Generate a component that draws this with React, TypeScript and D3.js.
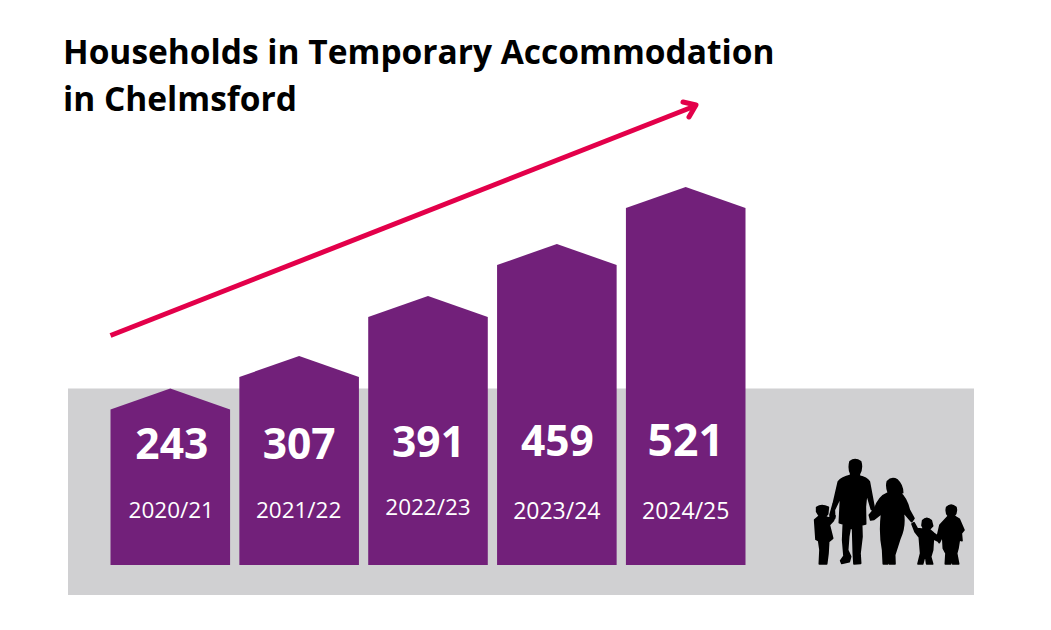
import React from "react";
import * as d3 from "d3";

const years = ["2020/21", "2021/22", "2022/23", "2023/24", "2024/25"];
const households = [243, 307, 391, 459, 521];
// small nudges the original has on its hand placed labels
const valueNudge = [0, 0, -2, -3, -3];
const valueShift = [1.5, 0, 0.5, 0.5, 0];
const valueSize = [42.5, 42.5, 42.5, 42.5, 44.5];
const yearNudge = [0, 0, -3, 1, 1];
const yearShift = [1, -0.5, 0, 0, 0];
const yearSize = [22.5, 22.5, 22.5, 23, 23];
const titleLines = ["Households in Temporary Accommodation", "in Chelmsford"];

const WIDTH = 1051;
const HEIGHT = 630;
const FONT = "'Open Sans', sans-serif";
const PURPLE = "#72207a";
const GREY = "#d0d0d2";
const RED = "#e3004a";

// the original's bars are not strictly proportional, so each value gets its own stop
const y = d3.scaleLinear().domain(households).range([388.5, 356, 296, 244, 187]);
const x = d3.scaleBand<string>().domain(years).range([110.5, 745.5]).paddingInner(0.072).paddingOuter(0);

const BASE = 565;
const ROOF = 21;

const housePath = (year: string, value: number) => {
  const left = x(year) || 0;
  const w = x.bandwidth();
  const top = y(value);
  const p = d3.path();
  p.moveTo(left, BASE);
  p.lineTo(left, top + ROOF);
  p.lineTo(left + w / 2, top);
  p.lineTo(left + w, top + ROOF);
  p.lineTo(left + w, BASE);
  p.closePath();
  return p.toString();
};

// family silhouette, traced in a 540x375 box
const family = [
  "M150 35 Q165 22 182 35 Q188 55 178 72 L178 78 Q200 82 208 95 L222 170 L224 185 L214 178 L200 130 L196 170 L197 222 L185 225 L186 260 L180 310 L182 340 L162 342 L160 310 L158 240 L152 225 L146 260 L143 300 L152 320 L148 335 L125 340 L122 332 L132 318 L128 270 L130 222 L118 218 L122 140 L103 180 L104 205 L92 210 L90 195 L100 160 L115 95 Q125 82 152 76 L152 70 Q145 55 150 35 Z",
  "M262 95 Q275 80 292 90 Q308 105 308 128 L300 128 Q320 145 328 180 L342 205 L335 215 L315 192 L310 190 Q316 230 300 265 L284 315 L285 342 L268 342 L264 330 L262 342 L250 342 L248 300 Q238 250 245 190 L222 208 L212 210 L208 195 L225 175 Q235 140 265 128 Q258 110 262 95 Z",
  "M50 172 Q65 162 85 172 L83 192 L76 200 L90 205 L96 190 L105 198 L100 212 L88 225 L98 265 L86 275 L84 310 L80 342 L58 342 L60 300 L56 272 L48 268 L44 210 L58 198 L50 185 Z",
  "M368 212 Q380 198 394 212 L398 228 L388 238 L402 250 L418 262 L412 272 L400 266 L398 300 L392 320 L398 342 L380 342 L376 312 L368 342 L354 342 L362 310 L358 262 L345 245 L336 222 L342 218 L352 236 L372 238 L366 226 Z",
  "M440 172 Q453 158 468 172 Q472 188 462 198 L478 208 L492 240 L484 250 L486 272 L478 270 L474 295 L470 310 L476 342 L458 342 L456 315 L452 342 L436 342 L438 310 L430 295 L428 258 L418 278 L410 268 L420 225 L445 198 Q436 188 440 172 Z",
];

export default function App() {
  return (
    <svg
      width={WIDTH}
      height={HEIGHT}
      viewBox={`0 0 ${WIDTH} ${HEIGHT}`}
      style={{ position: "absolute", left: 0, top: 0, background: "#fff" }}
    >
      <rect x={68} y={388.5} width={906} height={206.5} fill={GREY} />

      {titleLines.map((line, i) => (
        <text key={line} x={63} y={64 + i * 46.5} fontFamily={FONT} fontWeight={700} fontSize={33.5} fill="#000">
          {line}
        </text>
      ))}

      <g stroke={RED} strokeWidth={5} fill="none" strokeLinecap="round" strokeLinejoin="round">
        <path d="M110.5 335.5 L695 106" strokeLinecap="butt" />
        <path d="M683 102 L696 105 L689 117" />
      </g>

      {years.map((year, i) => {
        const cx = (x(year) || 0) + x.bandwidth() / 2;
        return (
          <g key={year}>
            <path d={housePath(year, households[i])} fill={PURPLE} />
            <text
              x={cx + valueShift[i]}
              y={459 + valueNudge[i]}
              textAnchor="middle"
              fontFamily={FONT}
              fontWeight={700}
              fontSize={valueSize[i]}
              fill="#fff"
            >
              {households[i]}
            </text>
            <text
              x={cx + yearShift[i]}
              y={518 + yearNudge[i]}
              textAnchor="middle"
              fontFamily={FONT}
              fontSize={yearSize[i]}
              fill="#fff"
            >
              {year}
            </text>
          </g>
        );
      })}

      <g transform="translate(800,450) scale(0.3333)" fill="#000" stroke="#000" strokeWidth={5} strokeLinejoin="round">
        {family.map((d, i) => (
          <path key={i} d={d} />
        ))}
      </g>
    </svg>
  );
}
